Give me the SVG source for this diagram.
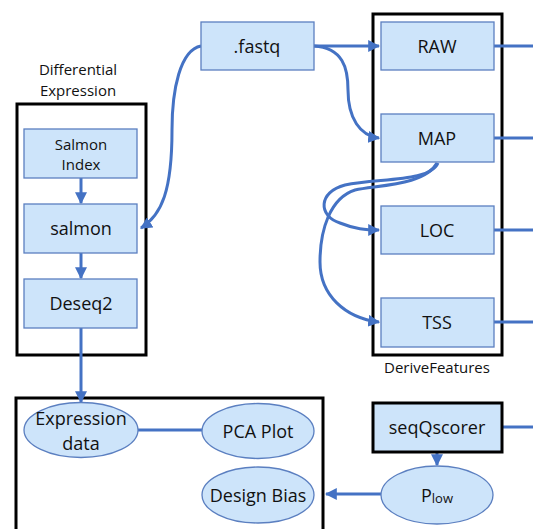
<svg xmlns="http://www.w3.org/2000/svg" width="533" height="529" viewBox="0 0 533 529">
<defs>
<style>
.box{fill:#cde4fa;stroke:#5b7fc0;stroke-width:1.3}
.grp{fill:none;stroke:#000;stroke-width:3}
.t{font-family:"Open Sans","Noto Sans",sans-serif;font-size:18px;fill:#111;text-anchor:middle;dominant-baseline:central}
.s{font-size:15px}
.c{fill:none;stroke:#4472c4;stroke-width:3}
</style>
<marker id="ah" viewBox="0 0 10 10" refX="9" refY="5" markerWidth="4" markerHeight="4" orient="auto" markerUnits="strokeWidth">
<path d="M0,0 L10,5 L0,10 z" fill="#4472c4"/>
</marker>
</defs>
<rect width="533" height="529" fill="#fff"/>
<g id="groups">
<rect class="grp" x="17" y="104" width="129" height="251"/>
<rect class="grp" x="373" y="14" width="129" height="341"/>
<rect class="grp" x="16" y="398" width="307" height="140"/>
<text class="t s" x="78" y="69">Differential</text>
<text class="t s" x="78" y="90">Expression</text>
<text class="t s" x="437" y="367">DeriveFeatures</text>
</g>
<g id="connectors">
<path class="c" d="M314,46 L379,46" marker-end="url(#ah)"/>
<path class="c" d="M314,46 C343,48 348,68 348,90 C348,118 360,136 379,138" marker-end="url(#ah)"/>
<path class="c" d="M201,46 C180,50 172,90 172,130 C172,190 162,215 141,228" marker-end="url(#ah)"/>
<path class="c" d="M438,163 C430,182 380,178 345,185 C318,192 318,216 340,223 C355,229 365,230 379,230" marker-end="url(#ah)"/>
<path class="c" d="M437,163 C425,185 380,185 355,190 C330,198 320,230 320,262 C320,295 345,318 379,322" marker-end="url(#ah)"/>
<path class="c" d="M81,178 L81,203" marker-end="url(#ah)"/>
<path class="c" d="M81,253 L81,278" marker-end="url(#ah)"/>
<path class="c" d="M81,328 L81,402" marker-end="url(#ah)"/>
<path class="c" d="M138,430 L202,430"/>
<path class="c" d="M437,452 L437,465" marker-end="url(#ah)"/>
<path class="c" d="M381,494 L326,494" marker-end="url(#ah)"/>
<path class="c" d="M494,46 L533,46"/>
<path class="c" d="M494,138 L533,138"/>
<path class="c" d="M494,230 L533,230"/>
<path class="c" d="M494,322 L533,322"/>
<path class="c" d="M502,427 L533,427"/>
</g>
<g id="fastq"><rect class="box" x="201" y="22" width="113" height="48"/><text class="t" x="257" y="46">.fastq</text></g>
<g id="raw"><rect class="box" x="381" y="22" width="113" height="48"/><text class="t" x="437" y="46">RAW</text></g>
<g id="map"><rect class="box" x="381" y="114" width="113" height="48"/><text class="t" x="437" y="138">MAP</text></g>
<g id="loc"><rect class="box" x="381" y="206" width="113" height="48"/><text class="t" x="437" y="230">LOC</text></g>
<g id="tss"><rect class="box" x="381" y="298" width="113" height="49"/><text class="t" x="437" y="322">TSS</text></g>
<g id="salmonindex"><rect class="box" x="24" y="129" width="113" height="49"/><text class="t s" x="81" y="144">Salmon</text><text class="t s" x="81" y="164">Index</text></g>
<g id="salmon"><rect class="box" x="24" y="204" width="113" height="49"/><text class="t" x="81" y="228">salmon</text></g>
<g id="deseq2"><rect class="box" x="24" y="279" width="113" height="49"/><text class="t" x="81" y="303">Deseq2</text></g>
<g id="exprdata"><ellipse class="box" cx="81" cy="430" rx="57" ry="27.5"/><text class="t" x="81" y="418">Expression</text><text class="t" x="81" y="443">data</text></g>
<g id="pcaplot"><ellipse class="box" cx="258" cy="431" rx="56" ry="27.5"/><text class="t" x="258" y="431">PCA Plot</text></g>
<g id="designbias"><ellipse class="box" cx="258" cy="495" rx="56" ry="28"/><text class="t" x="258" y="495">Design Bias</text></g>
<g id="seqqscorer"><rect x="373" y="403" width="129" height="49" fill="#cde4fa" stroke="#000" stroke-width="3"/><text class="t" x="437" y="427">seqQscorer</text></g>
<g id="plow"><ellipse class="box" cx="437" cy="495" rx="56" ry="29"/><text class="t" x="437" y="495"><tspan>P</tspan><tspan font-size="13" dy="3">low</tspan></text></g>
</svg>
